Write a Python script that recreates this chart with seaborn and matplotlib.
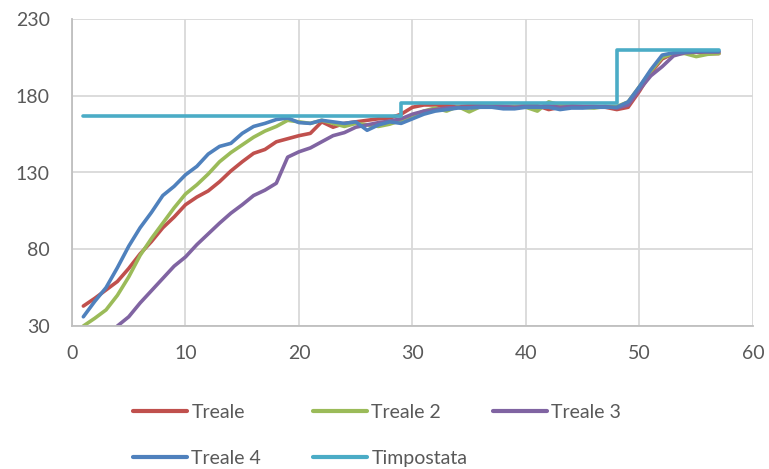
import matplotlib
matplotlib.use("Agg")
import matplotlib.pyplot as plt
import seaborn as sns
import pandas as pd

# Temperature readings per step (x = 1..57)
steps = list(range(1, 58))

treale = [43, 48, 53.5, 59, 67.5, 77, 85, 94, 101, 109,
          114, 118, 124, 131, 137, 142.5, 145, 150, 152, 154,
          155.5, 163, 159.5, 162, 163, 164, 165, 165.5, 168, 172.5,
          174, 174, 173.5, 173, 173.5, 174, 173.5, 173, 173, 173.5,
          173.5, 171, 172.5, 173.5, 173, 173, 172.5, 171, 172.5, 183,
          195, 204, 207.5, 208.5, 208.5, 207.5, 207.5]

treale_2 = [30, 35, 40.5, 50, 62, 76, 87, 97, 107, 116,
            122, 129, 137, 143, 148, 153, 157, 160, 164, 163,
            162, 164, 162, 160, 162, 161, 160, 161.5, 164, 167,
            170, 172, 170, 173, 169.5, 173, 173.5, 173, 173, 172.5,
            170, 176, 174, 173, 172.5, 172, 173, 173, 176, 186,
            196, 205, 207.5, 207.5, 205.5, 207, 207.5]

steps_3 = list(range(4, 58))
treale_3 = [30, 36, 45, 53, 61, 69, 75, 83, 90, 97,
            103.5, 109, 115, 118.5, 123, 140, 143.5, 146, 150, 154,
            156, 159.5, 161, 162.5, 163.5, 165, 168, 170, 171, 172,
            172.5, 172.5, 173, 173, 173, 172.5, 173, 173, 173.5, 172.5,
            173, 173, 173, 173, 172, 174, 184, 193, 199, 206,
            208, 208.5, 208.5, 208.5]

treale_4 = [36, 46, 55, 68, 82, 94, 104, 115, 121, 128.5,
            134, 142, 147, 149, 155.5, 160, 162, 164.5, 165.5, 162.5,
            162, 164, 163, 162, 163, 157.5, 161, 163, 162, 165,
            168, 170, 171, 172, 172, 172.5, 172.5, 171.5, 171.5, 172.5,
            172.5, 172.5, 171, 172, 172, 172.5, 172.5, 172.5, 176, 186,
            197, 206.5, 208, 208.5, 209, 209, 209]

# Set-point profile (step changes at x = 29 and x = 48)
steps_imp = [1, 29, 29, 48, 48, 57]
timpostata = [167, 167, 175, 175, 210, 210]

x_ticks = [0, 10, 20, 30, 40, 50, 60]
y_ticks = [30, 80, 130, 180, 230]

series = [
    ("Treale", steps, treale, "#C0504D"),
    ("Treale 2", steps, treale_2, "#9BBB59"),
    ("Treale 3", steps_3, treale_3, "#8064A2"),
    ("Treale 4", steps, treale_4, "#4F81BD"),
    ("Timpostata", steps_imp, timpostata, "#4BACC6"),
]

sns.set_theme(style="white")
plt.rcParams["font.family"] = ["Lato", "DejaVu Sans"]

fig = plt.figure(figsize=(7.69, 4.69), dpi=100)
ax = fig.add_axes([72 / 769, 1 - 326 / 469, (753 - 72) / 769, (326 - 19) / 469])

for name, xs, ys, color in series:
    df = pd.DataFrame({"x": xs, "y": ys})
    sns.lineplot(data=df, x="x", y="y", ax=ax, color=color, linewidth=2.6,
                 estimator=None, sort=False, label=name,
                 solid_capstyle="round", solid_joinstyle="round")

ax.set_xlim(0, 60)
ax.set_ylim(30, 230)
ax.set_xticks(x_ticks)
ax.set_yticks(y_ticks)
ax.set_xlabel("")
ax.set_ylabel("")
ax.grid(True, color="#D9D9D9", linewidth=1.3)
ax.set_axisbelow(True)
for side in ["top", "right"]:
    ax.spines[side].set_visible(False)
for side in ["left", "bottom"]:
    ax.spines[side].set_color("#BFBFBF")
    ax.spines[side].set_linewidth(1.3)
ax.tick_params(axis="both", length=0, labelsize=14, labelcolor="#595959")
ax.tick_params(axis="y", pad=16)
ax.tick_params(axis="x", pad=14)

# Legend on an even grid: three columns, filled row by row
handles, labels = ax.get_legend_handles_labels()
ax.legend_.remove()
columns = [[0, 3], [1, 4], [2]]
col_left = [133, 313, 493]
for idx, left in zip(columns, col_left):
    leg = fig.legend([handles[i] for i in idx], [labels[i] for i in idx],
                     ncol=1, loc="upper left",
                     bbox_to_anchor=(left / 769, 1 - 404 / 469),
                     frameon=False, fontsize=14, handlelength=2.8,
                     handletextpad=0.2, labelspacing=1.5,
                     borderaxespad=0, borderpad=0)
    for t in leg.get_texts():
        t.set_color("#595959")
    for h in leg.get_lines():
        h.set_linewidth(3.0)

fig.savefig("out.png", dpi=100)
